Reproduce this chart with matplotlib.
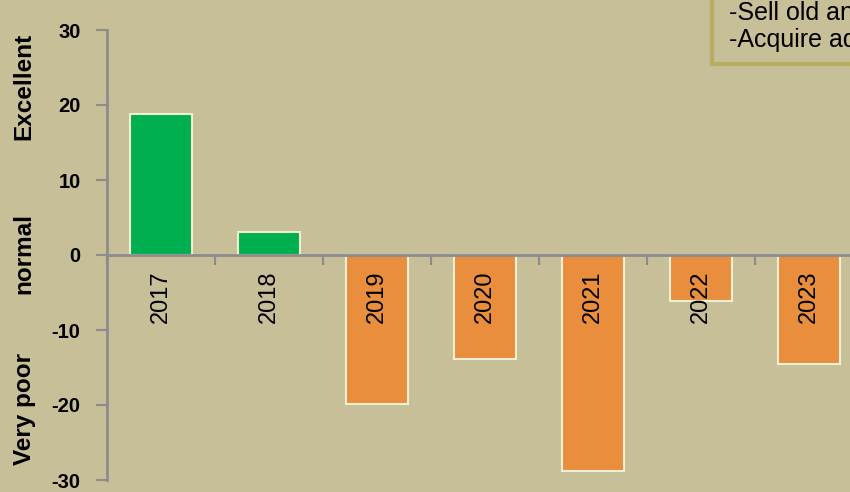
import matplotlib
matplotlib.use("Agg")
import matplotlib.pyplot as plt
from matplotlib.patches import Rectangle
import numpy as np

years = ["2017", "2018", "2019", "2020", "2021", "2022", "2023"]
values = [18.8, 3.1, -19.9, -13.8, -28.8, -6.1, -14.5]
yticks = [-30, -20, -10, 0, 10, 20, 30]
side_labels = ["Excellent", "normal", "Very poor"]
box_lines = ["-Sell old and inefficient assets", "-Acquire advanced equipment"]

BG = "#C6BF98"
GREEN = "#00B050"
ORANGE = "#E88E3D"
EDGE = "#F2EFD2"
AXC = "#8C8C8C"

W, H = 850, 492
fig = plt.figure(figsize=(W / 100, H / 100), dpi=100)
fig.patch.set_facecolor(BG)
ax = fig.add_axes([107 / W, 12 / H, (W - 107) / W, 450 / H])
ax.set_facecolor(BG)
ax.set_axisbelow(False)

x = np.arange(len(years))
colors = [GREEN if v >= 0 else ORANGE for v in values]
ax.bar(x, values, width=0.58, color=colors, edgecolor=EDGE, linewidth=1.5, zorder=2)

for s in ["top", "right"]:
    ax.spines[s].set_visible(False)
ax.spines["bottom"].set_position(("data", 0))
ax.spines["bottom"].set_color(AXC)
ax.spines["bottom"].set_linewidth(2)
ax.spines["left"].set_color(AXC)
ax.spines["left"].set_linewidth(2)

ax.set_yticks(yticks)
ax.set_yticklabels([str(t) for t in yticks], fontsize=14.5, fontweight="bold",
                   family="Liberation Sans")
ax.tick_params(axis="y", direction="out", length=8, width=1.5, color=AXC, pad=11)

ax.set_xticks(x)
ax.set_xticklabels(years, rotation=90, fontsize=17, family="Liberation Sans")
ax.set_xticks(np.arange(-0.5, len(years) + 0.5, 1), minor=True)
ax.tick_params(axis="x", which="major", length=0, pad=11)
ax.tick_params(axis="x", which="minor", direction="out", length=7, width=1.5, color=AXC)
for lab in ax.get_xticklabels():
    lab.set_va("top")

ax.set_xlim(-0.5, -0.5 + (W - 107) / 108.0)
ax.set_ylim(-30, 30)

# side category labels
for lab, yp in zip(side_labels, [86, 253, 409]):
    fig.text(24 / W, 1 - yp / H, lab, rotation=90, ha="center", va="center",
             fontsize=17.5, fontweight="bold", family="Liberation Sans")

# text box (cropped at right edge)
fig.patches.append(Rectangle((712 / W, 1 - 64 / H), 400 / W, 100 / H,
                             transform=fig.transFigure, facecolor=BG,
                             edgecolor="#B7AE62", linewidth=3, zorder=5))
for i, line in enumerate(box_lines):
    fig.text(729 / W, 1 - (13 + 27 * i) / H, line, ha="left", va="center",
             fontsize=18, family="Liberation Sans", color="black", zorder=6)

fig.savefig("out.png", dpi=100, facecolor=BG)
